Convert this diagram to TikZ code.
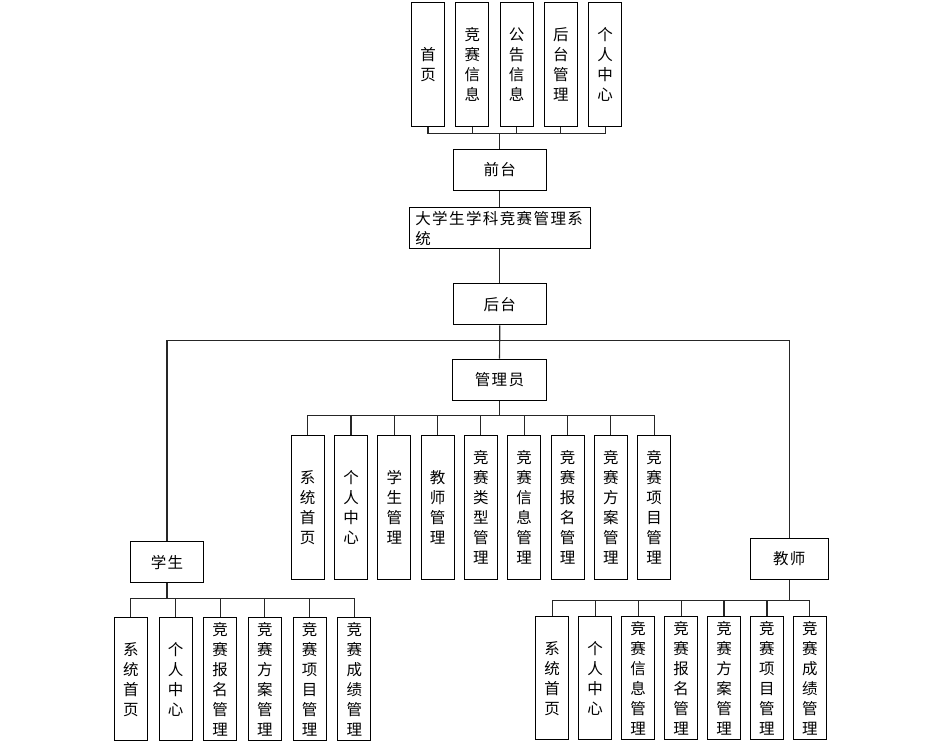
\documentclass[tikz,border=0pt]{standalone}
\usepackage{fontspec}
\setmainfont{Noto Sans CJK SC}[LetterSpace=9]
\begin{document}
\begin{tikzpicture}[x=1pt,y=-1pt,
  box/.style={draw=black,line width=1pt,inner sep=0pt,align=center,
    font=\fontsize{15.5}{20}\selectfont},
  vbox/.style={box,minimum width=33pt},
  hbox/.style={box,minimum height=41.5pt},
  link/.style={draw=black!85,line width=1.1pt}]
\useasboundingbox (0,0) rectangle (950,743);
% top row
\node[vbox,minimum height=123.5pt] (t1) at (428,64.3) {首\\页};
\node[vbox,minimum height=123.5pt] (t2) at (472.3,64.3) {竞\\赛\\信\\息};
\node[vbox,minimum height=123.5pt] (t3) at (516.6,64.3) {公\\告\\信\\息};
\node[vbox,minimum height=123.5pt] (t4) at (560.9,64.3) {后\\台\\管\\理};
\node[vbox,minimum height=123.5pt] (t5) at (605.2,64.3) {个\\人\\中\\心};
\node[hbox,minimum width=92.7pt] (front) at (499.7,170) {前台};
\node[box,minimum width=180.7pt,minimum height=41.3pt,text width=168.7pt,inner xsep=6pt,align=left] (sys) at (499.7,228.3) {大学生学科竞赛管理系\\统};
\node[hbox,minimum width=92.7pt] (back) at (499.7,304.2) {后台};
\node[hbox,minimum width=93.3pt] (admin) at (499.5,379.8) {管理员};
% admin children
\foreach \i/\t in {0/{系\\统\\首\\页},1/{个\\人\\中\\心},2/{学\\生\\管\\理},3/{教\\师\\管\\理},
  4/{竞\\赛\\类\\型\\管\\理},5/{竞\\赛\\信\\息\\管\\理},6/{竞\\赛\\报\\名\\管\\理},
  7/{竞\\赛\\方\\案\\管\\理},8/{竞\\赛\\项\\目\\管\\理}}
  \node[vbox,minimum height=144.3pt] (a\i) at (307.7+43.3*\i,507.2) {\t};
\node[hbox,minimum width=72.7pt,minimum height=41pt] (stu) at (167,562.2) {学生};
\node[hbox,minimum width=78pt,minimum height=41pt] (tea) at (789.3,558.8) {教师};
% student children
\foreach \i/\t in {0/{系\\统\\首\\页},1/{个\\人\\中\\心},2/{竞\\赛\\报\\名\\管\\理},
  3/{竞\\赛\\方\\案\\管\\理},4/{竞\\赛\\项\\目\\管\\理},5/{竞\\赛\\成\\绩\\管\\理}}
  \node[vbox,minimum height=123.3pt] (s\i) at (130.8+44.7*\i,679.3) {\t};
% teacher children
\foreach \i/\t in {0/{系\\统\\首\\页},1/{个\\人\\中\\心},2/{竞\\赛\\信\\息\\管\\理},
  3/{竞\\赛\\报\\名\\管\\理},4/{竞\\赛\\方\\案\\管\\理},5/{竞\\赛\\项\\目\\管\\理},
  6/{竞\\赛\\成\\绩\\管\\理}}
  \node[vbox,minimum height=123.3pt] (e\i) at (552.2+42.95*\i,678.3) {\t};
% bus points
\coordinate (tb) at (499.7,133.3);
\coordinate (mb) at (499.7,340.7);
\coordinate (ab) at (499.5,415.7);
\coordinate (sb) at (167,598.3);
\coordinate (eb) at (789.3,600.7);
% connectors
\foreach \i in {1,...,5} \draw[link] (t\i.south) |- (tb);
\draw[link] (tb) -- (front.north);
\draw[link] (front.south) -- (sys.north);
\draw[link] (sys.south) -- (back.north);
\draw[link] (back.south) -- (mb) -- (admin.north);
\draw[link] (mb) -| (stu.north);
\draw[link] (mb) -| (tea.north);
\draw[link] (admin.south) -- (ab);
\foreach \i in {0,...,8} \draw[link] (ab) -| (a\i.north);
\draw[link] (stu.south) -- (sb);
\foreach \i in {0,...,5} \draw[link] (sb) -| (s\i.north);
\draw[link] (tea.south) -- (eb);
\foreach \i in {0,...,6} \draw[link] (eb) -| (e\i.north);
\end{tikzpicture}
\end{document}
